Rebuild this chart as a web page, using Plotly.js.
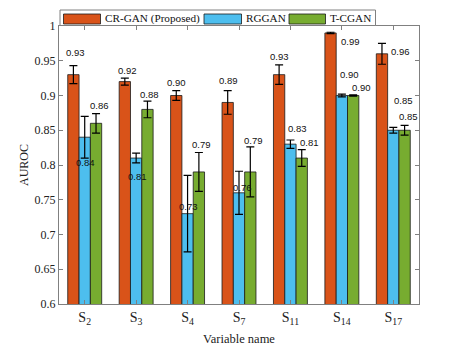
<!DOCTYPE html>
<html>
<head>
<meta charset="utf-8">
<script src="https://cdn.plot.ly/plotly-3.0.1.min.js"></script>
<style>
  html, body { margin: 0; padding: 0; background: #fff; }
  #chart { width: 463px; height: 346px; }
</style>
</head>
<body>
<div id="chart"></div>
<script>
  // --- data ---
  const categories = ["S<sub>2</sub>", "S<sub>3</sub>", "S<sub>4</sub>", "S<sub>7</sub>", "S<sub>11</sub>", "S<sub>14</sub>", "S<sub>17</sub>"];
  const seriesNames = ["CR-GAN (Proposed)", "RGGAN", "T-CGAN"];

  const crganVals = [0.93, 0.92, 0.90, 0.89, 0.93, 0.99, 0.96];
  const crganErr  = [0.013, 0.005, 0.007, 0.017, 0.014, 0.001, 0.015];
  const rgganVals = [0.84, 0.81, 0.73, 0.76, 0.83, 0.90, 0.85];
  const rgganErr  = [0.030, 0.007, 0.055, 0.031, 0.006, 0.002, 0.004];
  const tcganVals = [0.86, 0.88, 0.79, 0.79, 0.81, 0.90, 0.85];
  const tcganErr  = [0.014, 0.012, 0.028, 0.036, 0.012, 0.001, 0.007];

  const yTicks = [0.6, 0.65, 0.7, 0.75, 0.8, 0.85, 0.9, 0.95, 1];

  // --- styling / placement ---
  const colors = ["#D95319", "#4DBEEE", "#77AC30"];
  const serif = "Liberation Serif, Times New Roman, serif";
  const sans = "Liberation Sans, Arial, sans-serif";

  // value labels were hand-placed in the original; y in data units, dx in px from the group centre
  const labelY = [
    [0.962, 0.936, 0.919, 0.921, 0.956, 0.977, 0.964],
    [0.804, 0.783, 0.741, 0.767, 0.853, 0.930, 0.893],
    [0.885, 0.901, 0.830, 0.835, 0.833, 0.911, 0.870]
  ];
  const labelDx = [
    [-9, -9, -11, -11, -11, 9, 7],
    [1, 1, 1, 3, 7, 8, 10],
    [15, 13, 14, 14, 19, 20, 15]
  ];

  const M = { l: 59, r: 44, t: 26, b: 42 };
  const W = 463, H = 346;
  const plotW = W - M.l - M.r, plotH = H - M.t - M.b;
  const px = x => (x - M.l) / plotW;          // page px -> paper x
  const py = y => (H - M.b - y) / plotH;      // page px -> paper y

  const xIdx = categories.map((_, i) => i);
  const allVals = [crganVals, rgganVals, tcganVals];
  const allErr = [crganErr, rgganErr, tcganErr];

  const traces = allVals.map((vals, s) => ({
    type: "bar",
    name: seriesNames[s],
    x: xIdx,
    y: vals,
    marker: { color: colors[s], line: { color: "#1a1a1a", width: 0.8 } },
    error_y: { type: "data", array: allErr[s], visible: true, color: "#000", thickness: 1.2, width: 4 },
    showlegend: false,
    hoverinfo: "x+y"
  }));

  const annotations = [];
  allVals.forEach((vals, s) => {
    vals.forEach((v, i) => {
      annotations.push({
        x: i, y: labelY[s][i], xref: "x", yref: "y",
        xshift: labelDx[s][i],
        text: v.toFixed(2), showarrow: false,
        xanchor: "center", yanchor: "middle",
        font: { family: sans, size: 9.5, color: "#111" }
      });
    });
  });

  // hand-drawn legend in MATLAB style
  const shapes = [{
    type: "rect", xref: "paper", yref: "paper",
    x0: px(60), x1: px(375.5), y0: py(25.5), y1: py(10),
    line: { color: "#808080", width: 1 }, fillcolor: "#fff"
  }];
  const swatches = [[63.5, 100.5], [204, 241.5], [289, 325.5]];
  const textX = [103, 243.5, 328];
  swatches.forEach((sw, s) => {
    shapes.push({
      type: "rect", xref: "paper", yref: "paper",
      x0: px(sw[0]), x1: px(sw[1]), y0: py(24), y1: py(14),
      line: { color: "#1a1a1a", width: 0.8 }, fillcolor: colors[s]
    });
    annotations.push({
      xref: "paper", yref: "paper", x: px(textX[s]), y: py(18.5),
      xanchor: "left", yanchor: "middle", showarrow: false,
      text: seriesNames[s],
      font: { family: serif, size: 11.2, color: "#111" }
    });
  });

  const axisCommon = {
    showline: true, linecolor: "#808080", linewidth: 1,
    mirror: "ticks", ticks: "inside", ticklen: 4, tickcolor: "#808080",
    showgrid: false, zeroline: false
  };

  const layout = {
    width: W, height: H,
    margin: M,
    paper_bgcolor: "#fff", plot_bgcolor: "#fff",
    barmode: "group", bargap: 0.34, bargroupgap: 0,
    showlegend: false,
    xaxis: Object.assign({}, axisCommon, {
      range: [-0.5, 6.5],
      tickvals: xIdx, ticktext: categories,
      tickfont: { family: serif, size: 14, color: "#222" },
      title: { text: "Variable name", font: { family: serif, size: 12.5, color: "#222" }, standoff: 9 }
    }),
    yaxis: Object.assign({}, axisCommon, {
      range: [0.6, 1],
      tickvals: yTicks, ticktext: yTicks.map(String),
      tickfont: { family: serif, size: 12, color: "#222" },
      title: { text: "AUROC", font: { family: serif, size: 12, color: "#222" }, standoff: 3 }
    }),
    shapes: shapes,
    annotations: annotations
  };

  Plotly.newPlot("chart", traces, layout, { displayModeBar: false, staticPlot: true });
</script>
</body>
</html>
